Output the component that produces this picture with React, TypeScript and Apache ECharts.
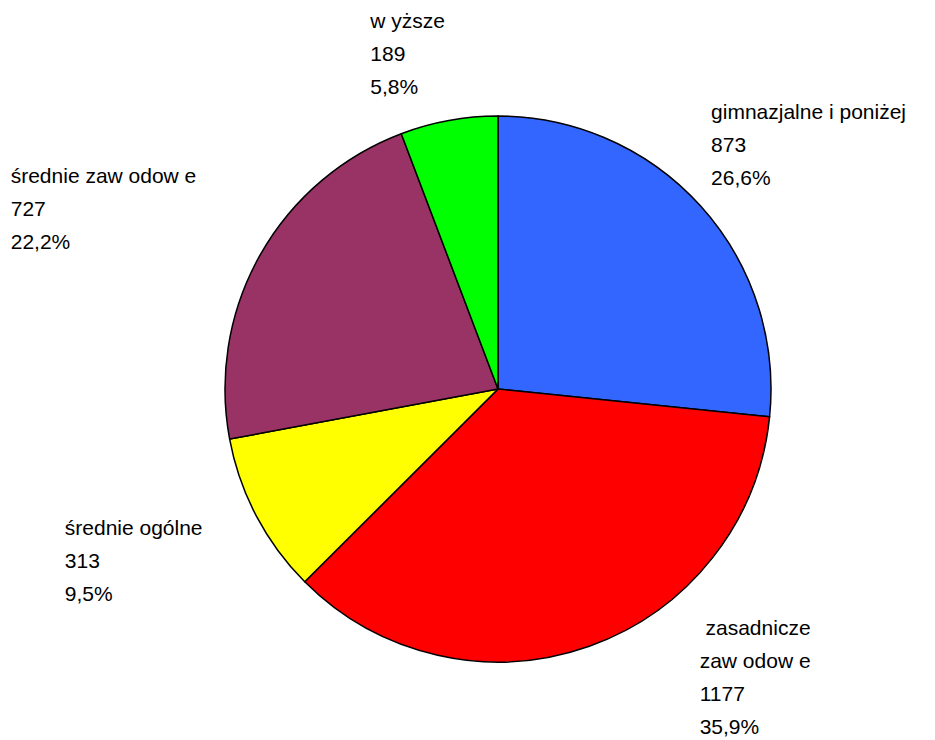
import React, { useEffect, useRef } from "react";
import * as echarts from "echarts";

const categories = [
  "gimnazjalne i poniżej",
  " zasadnicze\nzaw odow e",
  "średnie ogólne",
  "średnie zaw odow e",
  "w yższe",
];
const values = [873, 1177, 313, 727, 189];
const colors = ["#3366FF", "#FF0000", "#FFFF00", "#993366", "#00FF00"];
const labelOffsets = [
  [-2, -55],
  [102, 21],
  [-40, 40],
  [-50, -42],
  [3, -57],
];

export default function App() {
  const ref = useRef<HTMLDivElement>(null);
  useEffect(() => {
    if (!ref.current) return;
    const chart = echarts.init(ref.current, null, { renderer: "svg" });
    const total = values.reduce((a, b) => a + b, 0);
    chart.setOption({
      animation: false,
      backgroundColor: "#ffffff",
      series: [
        {
          type: "pie",
          center: [498, 389],
          radius: 273,
          startAngle: 90,
          clockwise: true,
          data: categories.map((name, i) => ({
            name,
            value: values[i],
            itemStyle: { color: colors[i] },
          })),
          itemStyle: { borderColor: "#000000", borderWidth: 1.5 },
          label: {
            show: true,
            position: "outside",
            fontFamily: "Liberation Sans, Arial, sans-serif",
            fontSize: 21,
            lineHeight: 33,
            color: "#000000",
            formatter: (p: any) =>
              `${p.name}\n${p.value}\n${((p.value / total) * 100)
                .toFixed(1)
                .replace(".", ",")}%`,
          },
          labelLine: { show: false, length: 10, length2: 0 },
          labelLayout: (p: any) => {
            const o = labelOffsets[p.dataIndex];
            return {
              x: p.labelRect.x + o[0],
              y: p.labelRect.y + o[1],
              align: "left",
              verticalAlign: "top",
            };
          },
          emphasis: { disabled: true },
        },
      ],
    });
    return () => chart.dispose();
  }, []);
  return (
    <div
      ref={ref}
      style={{ position: "fixed", left: 0, top: 0, width: 935, height: 740 }}
    />
  );
}
